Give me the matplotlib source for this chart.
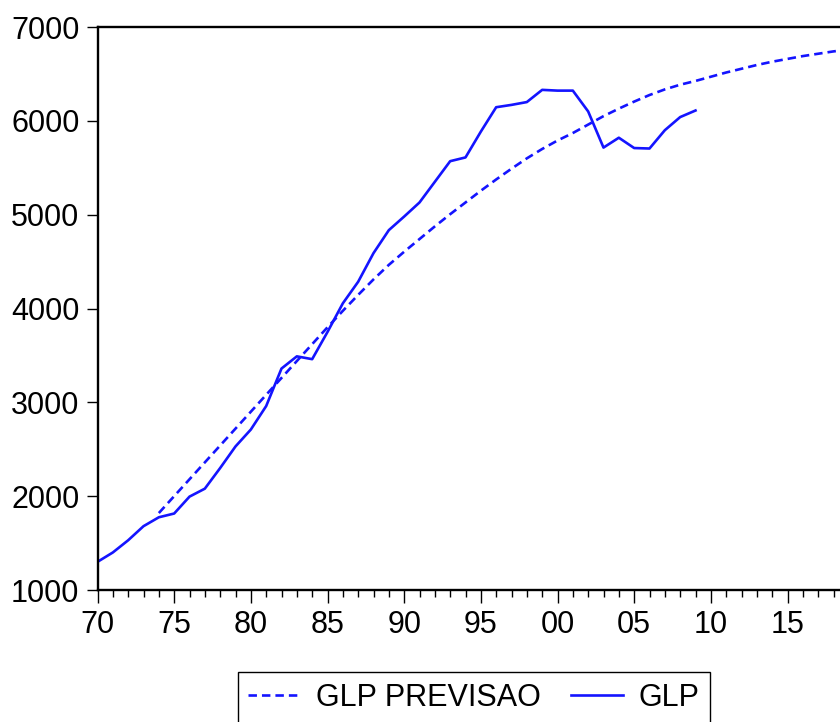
import matplotlib
matplotlib.use("Agg")
import matplotlib.pyplot as plt
import numpy as np
from matplotlib.ticker import MultipleLocator, FuncFormatter

# GLP actual, 1970-2009
glp_years = list(range(1970, 2010))
glp = [1300, 1400, 1530, 1680, 1775, 1815, 1995, 2080, 2300, 2530,
       2710, 2960, 3360, 3490, 3460, 3750, 4055, 4285, 4590, 4835,
       4980, 5130, 5350, 5570, 5610, 5885, 6145, 6170, 6200, 6330,
       6322, 6322, 6100, 5715, 5820, 5710, 5705, 5900, 6040, 6110]

# GLP PREVISAO (forecast), 1974-2020
prev_years = list(range(1974, 2021))
prev = [1820, 2000, 2180, 2360, 2540, 2720, 2900, 3080, 3260, 3440,
        3620, 3800, 3975, 4145, 4310, 4465, 4605, 4740, 4875, 5005,
        5130, 5255, 5375, 5490, 5600, 5700, 5790, 5870, 5960, 6050,
        6130, 6205, 6275, 6335, 6385, 6425, 6470, 6515, 6555, 6595,
        6630, 6660, 6690, 6715, 6740, 6760, 6780]

yticks = [1000, 2000, 3000, 4000, 5000, 6000, 7000]

plt.rcParams['font.family'] = ['Liberation Sans', 'DejaVu Sans']

fig = plt.figure(figsize=(8.4, 7.22), dpi=100)
# axes runs past the right edge of the picture, like the cropped original
ax = fig.add_axes([97.5 / 840, 132 / 722, 759 / 840, 563 / 722])

blue = '#1414ff'
ax.plot(prev_years, prev, color=blue, lw=1.9, dashes=(3.2, 1.9), label='GLP PREVISAO')
ax.plot(glp_years, glp, color=blue, lw=1.9, label='GLP')

ax.set_xlim(1970, 2019.5)
ax.set_ylim(1000, 7000)
ax.set_yticks(yticks)
ax.xaxis.set_major_locator(MultipleLocator(5))
ax.xaxis.set_minor_locator(MultipleLocator(1))
ax.xaxis.set_major_formatter(FuncFormatter(lambda v, p: "{:02d}".format(int(round(v)) % 100)))

for s in ['left', 'top', 'bottom', 'right']:
    ax.spines[s].set_linewidth(1.7)
ax.tick_params(axis='both', which='major', direction='out', labelsize=22, width=1, colors='black')
ax.tick_params(axis='y', which='major', length=8, pad=5)
ax.tick_params(axis='x', which='major', length=9.5, pad=5)
ax.tick_params(axis='x', which='minor', direction='out', length=5, width=1)

fig.legend(loc='upper center', bbox_to_anchor=(0.564, 0.069), ncol=2, fontsize=22,
           frameon=True, fancybox=False, edgecolor='black', framealpha=1,
           handlelength=1.7, handletextpad=0.5, columnspacing=1.0,
           borderpad=0.35, borderaxespad=0)

fig.savefig("out.png", dpi=100)
